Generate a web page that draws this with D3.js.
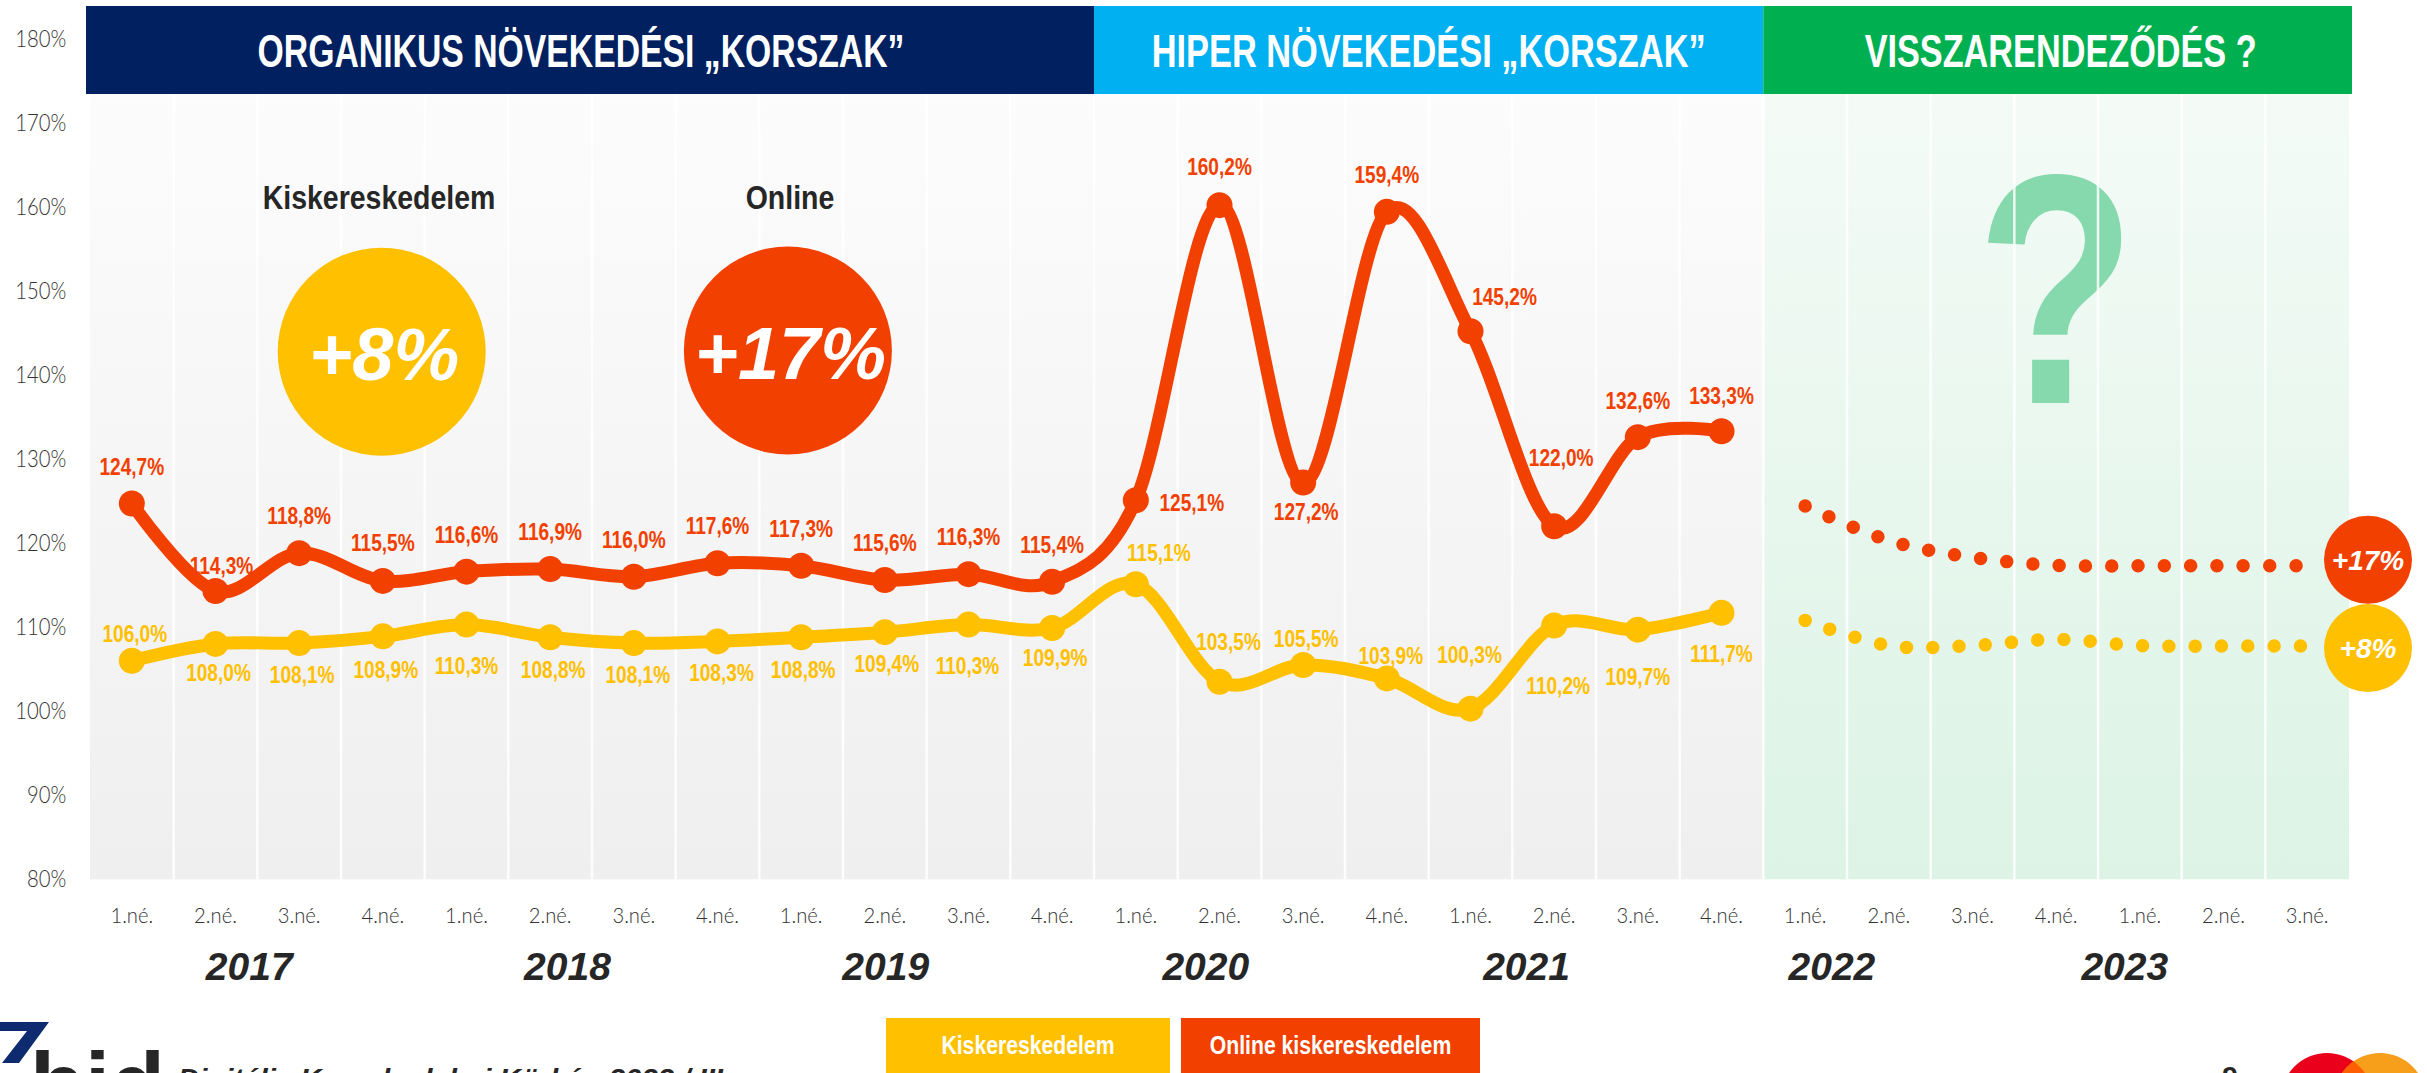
<!DOCTYPE html>
<html>
<head>
<meta charset="utf-8">
<style>
  body { margin: 0; background: #fff; }
  svg { display: block; }
  .axis text { font-family: Lato, "Liberation Sans", sans-serif; font-weight: 300; fill: #333; }
  .lbl { font-family: "Liberation Sans", Arial, sans-serif; font-weight: bold; }
</style>
<script src="https://d3js.org/d3.v7.min.js"></script>
</head>
<body>
<svg width="2427" height="1073"></svg>
<script>
// ---- data ----
var quarters = ["1.né.", "2.né.", "3.né.", "4.né.", "1.né.", "2.né.", "3.né.", "4.né.",
                "1.né.", "2.né.", "3.né.", "4.né.", "1.né.", "2.né.", "3.né.", "4.né.",
                "1.né.", "2.né.", "3.né.", "4.né.", "1.né.", "2.né.", "3.né.", "4.né.",
                "1.né.", "2.né.", "3.né."];
var years = ["2017", "2018", "2019", "2020", "2021", "2022", "2023"];
var retail = [106.0, 108.0, 108.1, 108.9, 110.3, 108.8, 108.1, 108.3, 108.8, 109.4,
              110.3, 109.9, 115.1, 103.5, 105.5, 103.9, 100.3, 110.2, 109.7, 111.7];
var online = [124.7, 114.3, 118.8, 115.5, 116.6, 116.9, 116.0, 117.6, 117.3, 115.6,
              116.3, 115.4, 125.1, 160.2, 127.2, 159.4, 145.2, 122.0, 132.6, 133.3];
var retailForecast = [110.8, 107.8, 107.8, 108.55, 107.8, 107.75, 107.75];
var onlineForecast = [124.4, 120.3, 118.3, 117.35, 117.3, 117.3, 117.3];
var yTicks = [80, 90, 100, 110, 120, 130, 140, 150, 160, 170, 180];
var eras = ["ORGANIKUS NÖVEKEDÉSI „KORSZAK”", "HIPER NÖVEKEDÉSI „KORSZAK”", "VISSZARENDEZŐDÉS ?"];
var eraQuarters = [12, 8, 7];
var seriesNames = ["Kiskereskedelem", "Online kiskereskedelem"];
var headline = ["Kiskereskedelem", "Online"];
var avgGrowth = ["+8%", "+17%"];

// ---- layout ----
var RED = "#f24000", YEL = "#ffc000", DARK = "#262626";
var eraColors = ["#002060", "#00b0f0", "#00b050"];
var eraTextWidth = [647, 554, 392];
var eraTextShift = [-9, 0, 3];
var yearPos = [1.903, 5.707, 9.511, 13.336, 17.17, 20.82, 24.32]; // band index of label centre
var onlineLabelOff = [[0,-37],[6,-25],[0,-37],[0,-38],[0,-37],[0,-37],[0,-37],[0,-37],[0,-37],[0,-37],
                      [0,-37],[0,-37],[56,3],[0,-38],[3,29],[0,-37],[34,-34],[7,-68],[0,-36],[0,-35]];
var retailLabelOff = [[3,-27],[3,29],[3,32],[3,33],[0,41],[3,33],[4,32],[4,31],[2,33],[2,32],
                      [-1,41],[3,30],[23,-31],[9,-40],[3,-26],[4,-23],[-1,-54],[4,60],[0,47],[0,41]];

var svg = d3.select("svg");
var plotTop = 94;
var x = d3.scaleBand().domain(d3.range(quarters.length)).range([90, 2349]);
var y = d3.scaleLinear().domain([80, 180]).range([879.3, 38.7]);
var bw = x.bandwidth();
var nHist = online.length;
function cx(i) { return x(i) + bw / 2; }
function fmt(v) { return v.toFixed(1).replace(".", ",") + "%"; }

// text squeezed horizontally (the original font is a narrow one)
function ctext(parent, px, py, str, size, sx) {
    return parent.append("text")
        .attr("class", "lbl")
        .attr("transform", "translate(" + px + "," + py + ") scale(" + sx + ",1)")
        .attr("text-anchor", "middle")
        .style("font-size", size + "px")
        .text(str);
}

// background gradients
var defs = svg.append("defs");
function grad(id, c0, c1) {
    var g = defs.append("linearGradient").attr("id", id)
        .attr("x1", 0).attr("y1", 0).attr("x2", 0).attr("y2", 1);
    g.append("stop").attr("offset", 0).attr("stop-color", c0);
    g.append("stop").attr("offset", 1).attr("stop-color", c1);
}
grad("gGray", "#fcfcfc", "#efefef");
grad("gGreen", "#f4fbf7", "#dcf3e5");

svg.append("rect")
    .attr("x", x(0)).attr("y", plotTop)
    .attr("width", x(nHist) - x(0)).attr("height", y(80) - plotTop)
    .attr("fill", "url(#gGray)");
svg.append("rect")
    .attr("x", x(nHist)).attr("y", plotTop)
    .attr("width", x.range()[1] - x(nHist)).attr("height", y(80) - plotTop)
    .attr("fill", "url(#gGreen)");

// big question mark in the forecast area
ctext(svg, (x(nHist) + x.range()[1]) / 2, 403, "?", 328, 0.8)
    .attr("fill", "#86d9ad");

// vertical gridlines
svg.append("g").selectAll("line")
    .data(d3.range(1, quarters.length))
    .enter().append("line")
    .attr("x1", function(d) { return x(d); })
    .attr("x2", function(d) { return x(d); })
    .attr("y1", plotTop).attr("y2", y(80))
    .attr("stroke", "#fff").attr("stroke-opacity", 0.85).attr("stroke-width", 2.5);

// era banners
var start = 0;
eras.forEach(function(t, k) {
    var x0 = k == 0 ? x(0) - 4 : x(start);
    var end = start + eraQuarters[k];
    var x1 = end < quarters.length ? x(end) : x.range()[1] + 3;
    svg.append("rect").attr("x", x0).attr("y", 6)
        .attr("width", x1 - x0).attr("height", plotTop - 6)
        .attr("fill", eraColors[k]);
    svg.append("text").attr("class", "lbl")
        .attr("x", (x0 + x1) / 2 + eraTextShift[k]).attr("y", 67)
        .attr("text-anchor", "middle")
        .attr("textLength", eraTextWidth[k]).attr("lengthAdjust", "spacingAndGlyphs")
        .style("font-size", "46px").attr("fill", "#fff")
        .text(t);
    start = end;
});

// y axis
var yAxis = d3.axisLeft(y).tickValues(yTicks)
    .tickFormat(function(d) { return d + "%"; })
    .tickSize(0).tickPadding(27);
svg.append("g").attr("class", "axis")
    .attr("transform", "translate(" + x(0) + ",0)")
    .call(yAxis)
    .call(function(g) { g.select(".domain").remove(); })
    .selectAll("text")
    .style("font-size", "23px")
    .attr("transform", "scale(0.88,1)");

// x axis (quarters)
var xAxis = d3.axisBottom(x)
    .tickFormat(function(i) { return quarters[i]; })
    .tickSize(0).tickPadding(28);
svg.append("g").attr("class", "axis")
    .attr("transform", "translate(0," + y(80) + ")")
    .call(xAxis)
    .call(function(g) { g.select(".domain").remove(); })
    .selectAll("text")
    .style("font-size", "22px")
    .attr("transform", "scale(0.92,1)");

// years
years.forEach(function(yr, k) {
    svg.append("text").attr("class", "lbl")
        .attr("x", x(0) + yearPos[k] * bw).attr("y", 980)
        .attr("text-anchor", "middle")
        .style("font-size", "39px").style("font-style", "italic")
        .attr("fill", DARK)
        .text(yr);
});

// headline annotations
var heads = [{ cx: 381.7, cy: 351.7, r: 104, tx: 379, col: YEL },
             { cx: 787.9, cy: 350.5, r: 104, tx: 790, col: RED }];
heads.forEach(function(h, k) {
    ctext(svg, h.tx, 209, headline[k], 33.5, 0.85).attr("fill", DARK);
    svg.append("circle").attr("cx", h.cx).attr("cy", h.cy).attr("r", h.r).attr("fill", h.col);
    ctext(svg, h.cx + 2.5, h.cy + 28, avgGrowth[k], 74, 1)
        .attr("fill", "#fff").style("font-style", "italic");
});

// lines (Excel-like smoothing)
var curve = d3.curveCatmullRom.alpha(0);
var line = d3.line().x(function(d, i) { return cx(i); }).y(function(d) { return y(d); }).curve(curve);
var fline = d3.line().x(function(d, i) { return cx(nHist + i); }).y(function(d) { return y(d); }).curve(curve);

[[retailForecast, YEL], [onlineForecast, RED]].forEach(function(s) {
    svg.append("path").attr("d", fline(s[0]))
        .attr("fill", "none").attr("stroke", s[1])
        .attr("stroke-width", 13.5).attr("stroke-linecap", "round")
        .attr("stroke-dasharray", "0 26.3");
});

function series(vals, col) {
    var g = svg.append("g");
    g.append("path").attr("d", line(vals))
        .attr("fill", "none").attr("stroke", col)
        .attr("stroke-width", 13).attr("stroke-linejoin", "round");
    g.selectAll("circle").data(vals).enter().append("circle")
        .attr("cx", function(d, i) { return cx(i); })
        .attr("cy", function(d) { return y(d); })
        .attr("r", 13).attr("fill", col);
    return g;
}
series(retail, YEL);
series(online, RED);

function labels(vals, col, offs) {
    vals.forEach(function(v, i) {
        ctext(svg, cx(i) + offs[i][0], y(v) + offs[i][1] + 8.2, fmt(v), 23, 0.83)
            .attr("fill", col);
    });
}
labels(retail, YEL, retailLabelOff);
labels(online, RED, onlineLabelOff);

// average growth badges at the right edge
var badges = [{ v: retailForecast[retailForecast.length - 1], dy: 2, col: YEL },
              { v: onlineForecast[onlineForecast.length - 1], dy: -6, col: RED }];
badges.forEach(function(b, k) {
    var bx = x.range()[1] + 19, by = y(b.v) + b.dy;
    svg.append("circle").attr("cx", bx).attr("cy", by).attr("r", 44).attr("fill", b.col);
    ctext(svg, bx, by + 10, avgGrowth[k], 28, 1)
        .attr("fill", "#fff").style("font-style", "italic");
});

// legend
var legend = [{ x: 886, w: 284, col: YEL }, { x: 1181, w: 299, col: RED }];
legend.forEach(function(l, k) {
    svg.append("rect").attr("x", l.x).attr("y", 1018)
        .attr("width", l.w).attr("height", 60).attr("fill", l.col);
    ctext(svg, l.x + l.w / 2, 1054, seriesNames[k], 26.5, 0.8).attr("fill", "#fff");
});

// footer (cut off at the bottom of the page, as in the original)
svg.append("path")
    .attr("d", "M0,1022 L49,1022 L19,1063 L2,1063 L27,1031 L0,1031 Z")
    .attr("fill", "#0d2b6e");
svg.append("text").attr("class", "lbl")
    .attr("x", 30).attr("y", 1116)
    .style("font-size", "90px").attr("fill", DARK)
    .text("bid");
svg.append("text").attr("class", "lbl")
    .attr("x", 178).attr("y", 1088)
    .style("font-size", "28px").style("font-style", "italic").attr("fill", DARK)
    .attr("textLength", 545).attr("lengthAdjust", "spacingAndGlyphs")
    .text("Digitális Kereskedelmi Körkép 2022 / III");
svg.append("text").attr("class", "lbl")
    .attr("x", 2230).attr("y", 1086).attr("text-anchor", "middle")
    .style("font-size", "28px").attr("fill", DARK)
    .text("9");

var mc = svg.append("g");
defs.append("clipPath").attr("id", "mcClip")
    .append("circle").attr("cx", 2327).attr("cy", 1099).attr("r", 46);
mc.append("circle").attr("cx", 2327).attr("cy", 1099).attr("r", 46).attr("fill", "#eb001b");
mc.append("circle").attr("cx", 2380).attr("cy", 1099).attr("r", 46).attr("fill", "#f79e1b");
mc.append("circle").attr("cx", 2380).attr("cy", 1099).attr("r", 46).attr("fill", "#ff5f00")
    .attr("clip-path", "url(#mcClip)");
</script>
</body>
</html>
